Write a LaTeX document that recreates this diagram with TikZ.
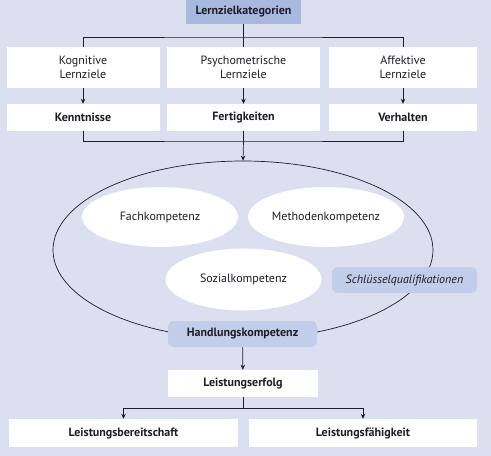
\documentclass[tikz,border=0pt]{standalone}
\usepackage{fontspec}
\setmainfont{PT Sans}
\usepackage{tikz}
\usetikzlibrary{arrows.meta,positioning,shapes}
\definecolor{bgblue}{RGB}{219,223,240}
\definecolor{headblue}{RGB}{168,184,222}
\definecolor{softblue}{RGB}{194,205,234}
\definecolor{inkgray}{RGB}{30,30,40}

\begin{document}
\begin{tikzpicture}[
    x=1pt, y=-1pt,
    box/.style={fill=white, minimum width=#1, inner sep=0pt, align=center, font=\fontsize{12}{14}\selectfont, text=inkgray},
    boldbox/.style={box=#1, minimum height=27pt, font=\fontsize{12}{14}\selectfont\bfseries},
    tagbox/.style={fill=softblue, rounded corners=6pt, minimum width=#1, minimum height=26pt, inner sep=0pt, text=inkgray},
    blob/.style={ellipse, fill=white, minimum width=156pt, minimum height=60pt, inner sep=0pt, font=\fontsize{12}{14}\selectfont, text=inkgray},
    arr/.style={-{Stealth[length=5pt, width=4.5pt]}, line width=0.7pt, inkgray},
    lin/.style={line width=0.7pt, inkgray}
]
% background
\fill[bgblue] (0,0) rectangle (491,456);
\useasboundingbox (0,0) rectangle (491,456);

% Lernzielkategorien
\node[fill=headblue, minimum width=115pt, minimum height=24pt, inner sep=0pt, font=\fontsize{12}{14}\selectfont\bfseries, text=inkgray] (lzk) at (243.5, 12) {Lernzielkategorien};

\node[box=153pt, minimum height=41pt] (kog) at (83, 67.5) {Kognitive\\Lernziele};
\node[box=153pt, minimum height=41pt] (psy) at (243.5, 67.5) {Psychometrische\\Lernziele};
\node[box=148pt, minimum height=41pt] (aff) at (403, 67.5) {Affektive\\Lernziele};

\node[boldbox=153pt] (ken) at (83, 117.5) {Kenntnisse};
\node[boldbox=153pt] (fer) at (243.5, 117.5) {Fertigkeiten};
\node[boldbox=148pt] (ver) at (403, 117.5) {Verhalten};

\coordinate (j1) at (243.5, 37);
\draw[lin] (lzk) -- (j1);
\draw[lin] (kog.north) |- (j1) -| (aff.north);
\draw[lin] (j1) -- (psy.north);

\draw[arr] (kog) -- (ken);
\draw[arr] (psy) -- (fer);
\draw[arr] (aff) -- (ver);

% Handlungskompetenz
\node[ellipse, draw=inkgray, line width=0.7pt, minimum width=380pt, minimum height=178pt, inner sep=0pt] (hk) at (243, 250) {};

\coordinate (j2) at (243.5, 141);
\draw[lin] (ken.south) |- (j2) -| (ver.south);
\draw[lin] (fer) -- (j2);
\draw[arr] (j2) -- (hk.north);

\node[blob] (fach) at (160, 217) {Fachkompetenz};
\node[blob] (meth) at (326, 217) {Methodenkompetenz};
\node[blob, minimum height=62pt] (soz) at (243.5, 279.5) {Sozialkompetenz};
\node[tagbox=145pt, font=\fontsize{12}{14}\selectfont\itshape] (sq) at (404.5, 280) {Schlüsselqualifikationen};

\node[tagbox=149pt, font=\fontsize{12}{14}\selectfont\bfseries] (hand) at (242.5, 334) {Handlungskompetenz};

% Leistung
\node[boldbox=150pt] (erf) at (243, 383.5) {Leistungserfolg};
\node[boldbox=229pt, minimum height=28pt] (ber) at (123.5, 433) {Leistungsbereitschaft};
\node[boldbox=228pt, minimum height=28pt] (fae) at (363, 433) {Leistungsfähigkeit};

\draw[arr] (hand) -- (erf);
\coordinate (j3) at (243, 408);
\draw[lin] (erf) -- (j3);
\draw[arr] (j3) -| (ber.north);
\draw[arr] (j3) -| (fae.north);
\end{tikzpicture}
\end{document}
